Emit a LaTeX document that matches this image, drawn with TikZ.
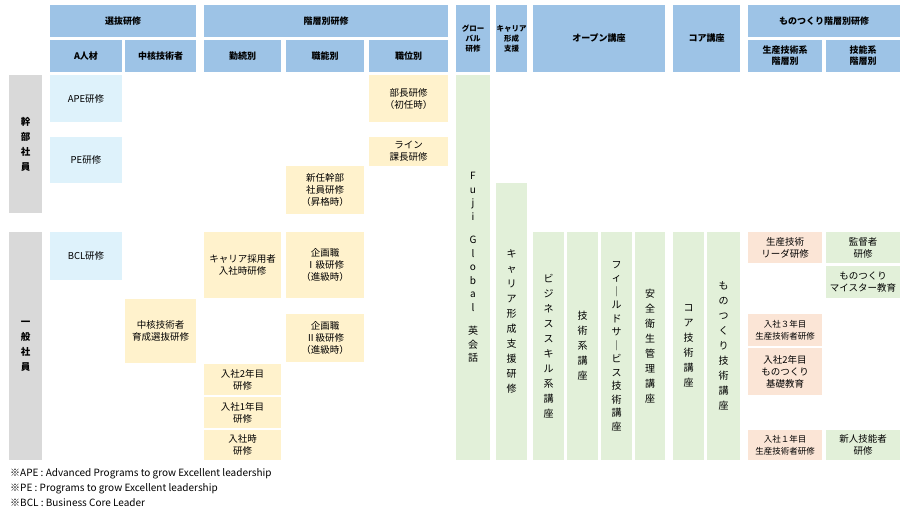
\documentclass[tikz,border=0pt]{standalone}
\usepackage{fontspec}
\setmainfont{Noto Sans CJK JP}
\usepackage{tikz}
\definecolor{hdrblue}{HTML}{9DC3E6}
\definecolor{cellcyan}{HTML}{DEF2FB}
\definecolor{cellyel}{HTML}{FFF2CC}
\definecolor{cellgrn}{HTML}{E2F0D9}
\definecolor{cellpink}{HTML}{FBE5D6}
\definecolor{cellgray}{HTML}{D9D9D9}
\newcommand\cell[7]{\node[#2,minimum width={(#5-#3)*1pt},minimum height={(#6-#4)*1pt}] (#1) at ({(#3+#5)/2},{(#4+#6)/2}) {#7};}

\begin{document}
\begin{tikzpicture}[x=1pt,y=-1pt,
  base/.style={inner sep=0pt,align=center,font=\fontsize{9.5}{12}\selectfont},
  hdr_box/.style={base,fill=hdrblue,font=\fontsize{9}{11}\selectfont\bfseries},
  cyan_box/.style={base,fill=cellcyan},
  yel_box/.style={base,fill=cellyel},
  grn_box/.style={base,fill=cellgrn},
  pink_box/.style={base,fill=cellpink},
  vert_box/.style={base,fill=cellgrn,font=\fontsize{10}{15}\selectfont},
  gray_box/.style={base,fill=cellgray,font=\fontsize{9.5}{15}\selectfont\bfseries}]
\useasboundingbox (0,0) rectangle (906,512);

% header rows
\cell{h1}{hdr_box}{50}{5}{196}{37}{選抜研修}
\cell{h2}{hdr_box}{204}{5}{448}{37}{階層別研修}
\cell{h3}{hdr_box,font=\fontsize{7.5}{10}\selectfont\bfseries}{456}{5}{490}{72}{グロー\\バル\\研修}
\cell{h4}{hdr_box,font=\fontsize{7.5}{10}\selectfont\bfseries}{496}{5}{527}{72}{キャリア\\形成\\支援}
\cell{h5}{hdr_box}{533}{5}{665}{72}{オープン講座}
\cell{h6}{hdr_box}{673}{5}{740}{72}{コア講座}
\cell{h7}{hdr_box}{748}{5}{900}{37}{ものつくり階層別研修}
\cell{s1}{hdr_box}{50}{40}{122}{72}{A人材}
\cell{s2}{hdr_box}{125}{40}{196}{72}{中核技術者}
\cell{s3}{hdr_box}{204}{40}{281}{72}{勤続別}
\cell{s4}{hdr_box}{286}{40}{364}{72}{職能別}
\cell{s5}{hdr_box}{369}{40}{448}{72}{職位別}
\cell{s6}{hdr_box}{748}{40}{822}{72}{生産技術系\\階層別}
\cell{s7}{hdr_box}{826}{40}{900}{72}{技能系\\階層別}

% left side
\cell{g1}{gray_box}{9}{75}{42}{213}{幹\\部\\社\\員}
\cell{g2}{gray_box}{9}{232}{42}{460}{一\\般\\社\\員}

% selection
\cell{ape}{cyan_box}{50}{75}{122}{122}{APE研修}
\cell{pe}{cyan_box}{50}{137}{122}{183}{PE研修}
\cell{bcl}{cyan_box}{50}{232}{122}{280}{BCL研修}
\cell{core}{yel_box}{125}{299}{196}{363}{中核技術者\\育成選抜研修}

% hierarchy
\cell{bucho}{yel_box}{369}{75}{448}{122}{部長研修\\（初任時）}
\cell{line}{yel_box}{369}{137}{448}{166}{ライン\\課長研修}
\cell{shinnin}{yel_box}{286}{166}{364}{214}{新任幹部\\社員研修\\（昇格時）}
\cell{career}{yel_box}{204}{232}{281}{298}{キャリア採用者\\入社時研修}
\cell{kikaku1}{yel_box}{286}{232}{364}{298}{企画職\\Ⅰ級研修\\（進級時）}
\cell{kikaku2}{yel_box}{286}{314}{364}{362}{企画職\\Ⅱ級研修\\（進級時）}
\cell{nen2}{yel_box}{204}{364}{281}{395}{入社2年目\\研修}
\cell{nen1}{yel_box}{204}{397}{281}{428}{入社1年目\\研修}
\cell{nyusha}{yel_box}{204}{430}{281}{460}{入社時\\研修}

% vertical columns
\cell{global}{vert_box,font=\fontsize{10}{13.5}\selectfont}{456}{75}{490}{460}{F\\u\\j\\i\\[10pt]G\\l\\o\\b\\a\\l\\[10pt]英\\会\\話}
\cell{cshien}{vert_box}{496}{183}{527}{460}{キ\\ャ\\リ\\ア\\形\\成\\支\\援\\研\\修}
\cell{biz}{vert_box}{533}{232}{564}{460}{ビ\\ジ\\ネ\\ス\\ス\\キ\\ル\\系\\講\\座}
\cell{gijutsu}{vert_box}{567}{232}{598}{460}{技\\術\\系\\講\\座}
\cell{field}{vert_box,font=\fontsize{10}{13.5}\selectfont}{601}{232}{632}{460}{フ\\ィ\\｜\\ル\\ド\\サ\\｜\\ビ\\ス\\技\\術\\講\\座}
\cell{anzen}{vert_box}{635}{232}{665}{460}{安\\全\\衛\\生\\管\\理\\講\\座}
\cell{coretech}{vert_box}{673}{232}{704}{460}{コ\\ア\\技\\術\\講\\座}
\cell{monotech}{vert_box}{707}{232}{740}{460}{も\\の\\つ\\く\\り\\技\\術\\講\\座}

% monotsukuri
\cell{leader}{pink_box}{748}{232}{822}{263}{生産技術\\リーダ研修}
\cell{kantoku}{grn_box}{826}{232}{900}{263}{監督者\\研修}
\cell{meister}{grn_box}{826}{266}{900}{298}{ものつくり\\マイスター教育}
\cell{p3}{pink_box,font=\fontsize{8.5}{12}\selectfont}{748}{314}{822}{346}{入社３年目\\生産技術者研修}
\cell{p2}{pink_box}{748}{348}{822}{395}{入社2年目\\ものつくり\\基礎教育}
\cell{p1}{pink_box,font=\fontsize{8.5}{12}\selectfont}{748}{430}{822}{460}{入社１年目\\生産技術者研修}
\cell{shinjin}{grn_box}{826}{430}{900}{460}{新人技能者\\研修}

% notes
\node[base,anchor=west,font=\fontsize{10}{12}\selectfont] (n1) at (10,474) {※APE : Advanced Programs to grow Excellent leadership};
\node[base,anchor=west,font=\fontsize{10}{12}\selectfont] (n2) at (10,489) {※PE : Programs to grow Excellent leadership};
\node[base,anchor=west,font=\fontsize{10}{12}\selectfont] (n3) at (10,503) {※BCL : Business Core Leader};
\end{tikzpicture}
\end{document}
